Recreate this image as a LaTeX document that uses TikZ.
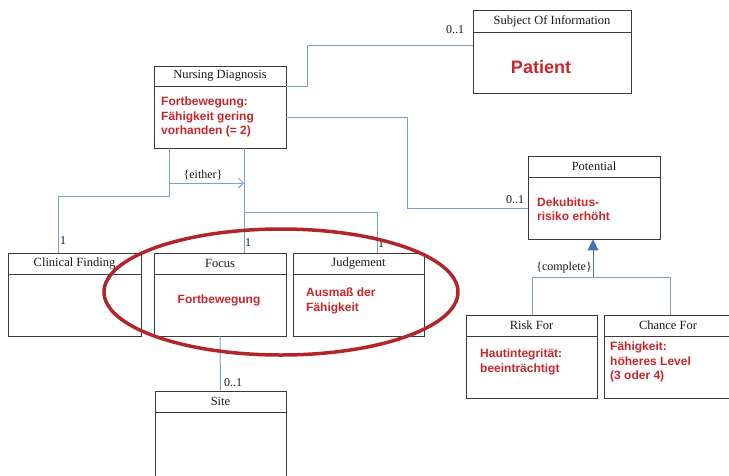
\documentclass[tikz,border=0pt]{standalone}
\usepackage{fontspec}
\setmainfont{Liberation Serif}
\newfontfamily\redsans{Liberation Sans}
\usetikzlibrary{arrows.meta,shapes.geometric}
\definecolor{boxgray}{HTML}{3A3A3A}
\definecolor{lineblue}{HTML}{7F9FCB}
\definecolor{tipblue}{HTML}{4672B4}
\definecolor{txtred}{HTML}{C9252C}
\definecolor{ellred}{HTML}{B2262B}
\newcommand\umlclass[7]{%
  \node[box, minimum width={#4-#2}, minimum height={#6-#3}] (#1) at ({(#2+#4)/2},{(#3+#6)/2}) {};
  \node[hdr] (#1-t) at ({(#2+#4)/2},{(#3+#5)/2}) {#7};
  \draw[boxline] (#2,#5) -- (#4,#5);
}
\begin{document}
\begin{tikzpicture}[x=1pt,y=-1pt,
  box/.style={draw=boxgray, line width=0.9pt, inner sep=0pt},
  boxline/.style={draw=boxgray, line width=0.9pt},
  hdr/.style={font=\fontsize{12.5}{14}\selectfont, inner sep=0pt, text=black!90},
  redtxt/.style={text=txtred, font=\redsans\bfseries\fontsize{12}{14.5}\selectfont, align=left, inner sep=0pt},
  conn/.style={draw=lineblue, line width=1pt},
  lbl/.style={font=\fontsize{12}{14}\selectfont, inner sep=0pt, text=black!90}]
\useasboundingbox (0,0) rectangle (729,475);

% classes
\umlclass{soi}{473}{10}{631}{32}{93}{Subject Of Information}
\umlclass{nd}{154}{66}{286}{86}{148}{Nursing Diagnosis}
\umlclass{pot}{528}{156}{660}{177}{239}{Potential}
\umlclass{cf}{8}{253}{141}{274}{336}{Clinical Finding}
\umlclass{foc}{154}{253}{286}{274}{336}{Focus}
\umlclass{jud}{293}{253}{424}{274}{336}{Judgement}
\umlclass{site}{155}{391}{286}{412}{480}{Site}
\umlclass{rf}{466}{315}{597}{336}{398}{Risk For}
\umlclass{chf}{604}{315}{732}{336}{398}{Chance For}

% red contents
\node[redtxt] (soi-b) at (541,67) {\fontsize{18}{20}\selectfont Patient};
\node[redtxt, anchor=west] (nd-b) at (161,117) {Fortbewegung:\\Fähigkeit gering\\vorhanden (= 2)};
\node[redtxt] (foc-b) at (219,300) {Fortbewegung};
\node[redtxt, anchor=west] (jud-b) at (306,301) {Ausmaß der\\Fähigkeit};
\node[redtxt, anchor=west] (pot-b) at (537,209) {Dekubitus-\\risiko erhöht};
\node[redtxt, anchor=west] (rf-b) at (480,362) {Hautintegrität:\\beeinträchtigt};
\node[redtxt, anchor=west] (chf-b) at (610,362) {Fähigkeit:\\höheres Level\\(3 oder 4)};

% connectors
\draw[conn] (nd.east |- 0,86) -- (307,86) -- (307,45) -- (soi.west |- 0,45);
\draw[conn] (nd.east |- 0,117) -- (407,117) -- (407,208) -- (pot.west |- 0,208);
\draw[conn] (nd.south -| 169,0) -- (169,196) -- (58,196) -- (cf.north -| 58,0);
\draw[conn] (nd.south -| 244,0) -- (foc.north -| 244,0);
\draw[conn] (244,212) -- (377,212) -- (jud.north -| 377,0);
\coordinate (eitherA) at (169,183);
\coordinate (eitherB) at (244,183);
\draw[conn, -{Straight Barb[length=5pt,width=10pt]}] (eitherA) -- (eitherB);
\draw[conn] (foc.south) -- (site.north);
\draw[conn] (rf.north -| 532,0) -- (532,277) -- (670,277) -- (chf.north -| 670,0);
\draw[conn, draw=tipblue, -{Triangle[length=11pt,width=11pt,fill=tipblue]}] (593,277) -- (pot.south -| 593,0);

% labels
\node[lbl] (l1) at (455,30) {0..1};
\node[lbl] (l2) at (515,200) {0..1};
\node[lbl, anchor=west] (l3) at (224,383) {0..1};
\node[lbl] (l4) at (63,241) {1};
\node[lbl] (l5) at (248,243) {1};
\node[lbl] (l6) at (381,244) {1};
\node[lbl] (l7) at (203,175) {\{either\}};
\node[lbl, anchor=east] (l8) at (592,268) {\{complete\}};

% highlight ellipse
\node[ellipse, draw=ellred, line width=3.5pt, minimum width=354pt, minimum height=126pt] (hl) at (281,292) {};
\end{tikzpicture}
\end{document}
